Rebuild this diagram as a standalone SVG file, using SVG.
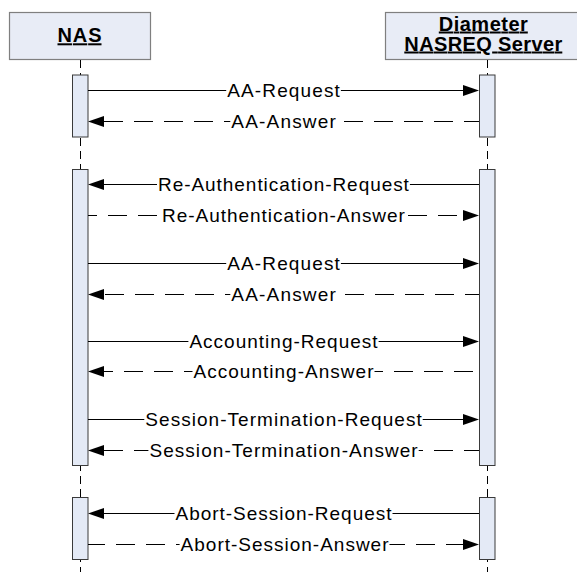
<svg xmlns="http://www.w3.org/2000/svg" width="577" height="572" viewBox="0 0 577 572">
<style>
.hdr{fill:#e8ecf6;stroke:#7f7f7f;stroke-width:1.2}
.act{fill:#e4eaf6;stroke:#3a3a3a;stroke-width:1}
.life{stroke:#000;stroke-width:1;stroke-dasharray:8 5;fill:none}
.title{font-family:"Liberation Sans",Arial,sans-serif;font-weight:bold;font-size:20px;text-anchor:middle;text-decoration:underline;fill:#000}
.msg{stroke:#000;stroke-width:1;fill:none;marker-end:url(#ah)}
.ret{stroke:#000;stroke-width:1.2;fill:none;stroke-dasharray:19 11;marker-end:url(#ah)}
.lbl{font-family:"Liberation Sans",Arial,sans-serif;font-size:19px;fill:#000}
.bg{fill:#fff}
</style>
<defs>
<marker id="ah" markerUnits="userSpaceOnUse" markerWidth="16" markerHeight="11" refX="10" refY="5.5" orient="auto">
<path d="M0,0 L16,5.5 L0,11 Z" fill="#000"/>
</marker>
</defs>
<g id="nas">
<rect class="hdr" x="9.5" y="12.5" width="141" height="47"/>
<text class="title" x="79.5" y="42.3" textLength="44">NAS</text>
<line class="life" x1="80.5" y1="60" x2="80.5" y2="572"/>
<rect class="act" x="72.5" y="75" width="15.5" height="62"/>
<rect class="act" x="72.5" y="169.5" width="15.5" height="296"/>
<rect class="act" x="72.5" y="497.5" width="15.5" height="62"/>
</g>
<g id="server">
<rect class="hdr" x="385.5" y="12.5" width="200" height="47"/>
<text class="title" x="483.3" y="30.5" textLength="89">Diameter</text>
<text class="title" x="483.3" y="50.5" textLength="158">NASREQ Server</text>
<line class="life" x1="487.5" y1="60" x2="487.5" y2="572"/>
<rect class="act" x="479.5" y="75" width="15.5" height="62"/>
<rect class="act" x="479.5" y="169.5" width="15.5" height="296"/>
<rect class="act" x="479.5" y="497.5" width="15.5" height="62"/>
</g>
<g id="connectors">
<path class="msg" d="M88,90.5 H473"/>
<path class="ret" d="M479,121.5 H94" stroke-dashoffset="4"/>
<path class="msg" d="M479,184.5 H94"/>
<path class="ret" d="M88,215.5 H473" stroke-dashoffset="10"/>
<path class="msg" d="M88,263.5 H473"/>
<path class="ret" d="M479,294.5 H94" stroke-dashoffset="5"/>
<path class="msg" d="M88,341.5 H473"/>
<path class="ret" d="M479,371.5 H94" stroke-dashoffset="24"/>
<path class="msg" d="M88,419.5 H473"/>
<path class="ret" d="M479,450.5 H94" stroke-dashoffset="4"/>
<path class="msg" d="M479,513.5 H94"/>
<path class="ret" d="M88,544.5 H473" stroke-dashoffset="2"/>

<rect class="bg" x="226.2" y="87" width="114.7" height="7"/>
<text class="lbl" x="227.2" y="97" textLength="112.7">AA-Request</text>
<rect class="bg" x="230.3" y="118" width="106.5" height="7"/>
<text class="lbl" x="231.3" y="128" textLength="104.5">AA-Answer</text>
<rect class="bg" x="157" y="181" width="252.9" height="7"/>
<text class="lbl" x="158" y="191" textLength="250.9">Re-Authentication-Request</text>
<rect class="bg" x="161.1" y="212" width="244.8" height="7"/>
<text class="lbl" x="162.1" y="222" textLength="242.8">Re-Authentication-Answer</text>
<rect class="bg" x="226.2" y="260" width="114.7" height="7"/>
<text class="lbl" x="227.2" y="270" textLength="112.7">AA-Request</text>
<rect class="bg" x="230.3" y="291" width="106.5" height="7"/>
<text class="lbl" x="231.3" y="301" textLength="104.5">AA-Answer</text>
<rect class="bg" x="188.4" y="338" width="190.2" height="7"/>
<text class="lbl" x="189.4" y="348" textLength="188.2">Accounting-Request</text>
<rect class="bg" x="192.5" y="368" width="182" height="7"/>
<text class="lbl" x="193.5" y="378" textLength="180">Accounting-Answer</text>
<rect class="bg" x="144.3" y="416" width="278.4" height="7"/>
<text class="lbl" x="145.3" y="426" textLength="276.4">Session-Termination-Request</text>
<rect class="bg" x="148.4" y="447" width="270.3" height="7"/>
<text class="lbl" x="149.4" y="457" textLength="268.3">Session-Termination-Answer</text>
<rect class="bg" x="174.5" y="510" width="218" height="7"/>
<text class="lbl" x="175.5" y="520" textLength="216">Abort-Session-Request</text>
<rect class="bg" x="179.6" y="541" width="209.9" height="7"/>
<text class="lbl" x="180.6" y="551" textLength="207.9">Abort-Session-Answer</text>
</g>
</svg>
